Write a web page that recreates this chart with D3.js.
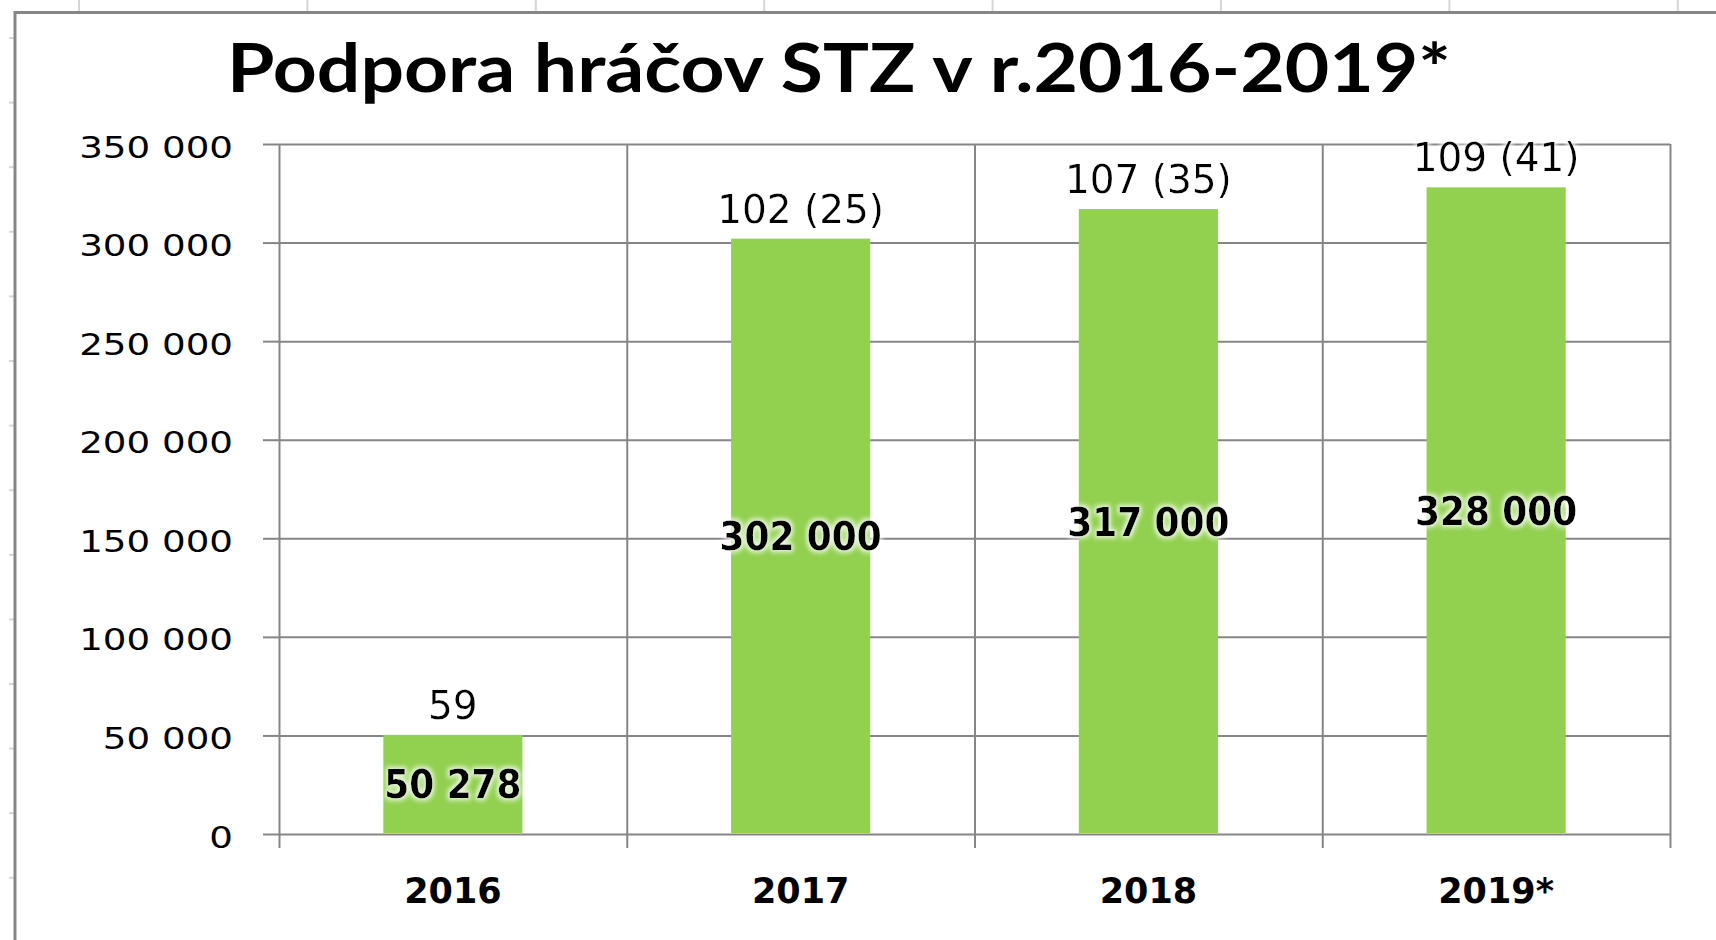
<!DOCTYPE html>
<html>
<head>
<meta charset="utf-8">
<title>Podpora hráčov STZ v r.2016-2019*</title>
<script src="https://cdn.jsdelivr.net/npm/d3@7"></script>
<style>
    html, body { margin: 0; padding: 0; background: #fff; }
    svg { display: block; }
</style>
</head>
<body>
<svg id="chart" width="1716" height="940"></svg>
<script>
var title = 'Podpora hráčov STZ v r.2016-2019*';
var categories = ['2016', '2017', '2018', '2019*'];
var amounts = [50278, 302000, 317000, 328000];
var playerLabels = ['59', '102 (25)', '107 (35)', '109 (41)'];
var yTicks = [0, 50000, 100000, 150000, 200000, 250000, 300000, 350000];

(function(d3) {
    'use strict';

    var width = 1716;
    var height = 940;
    var plot = { left: 279, right: 1670, top: 144, bottom: 834 };
    var plotWidth = plot.right - plot.left;
    var plotHeight = plot.bottom - plot.top;
    var gridColor = '#868686';
    var sheetColor = '#d6d6d6';
    var barColor = '#92D050';
    var font = "'DejaVu Sans', Verdana, sans-serif";

    var locale = d3.formatLocale({ decimal: ',', thousands: ' ', grouping: [3], currency: ['', ''] });
    var fmt = locale.format(',d');

    var svg = d3.select('#chart');

    //HINT: Excel style soft white glow behind the data labels
    var glow = svg.append('defs').append('filter')
        .attr('id', 'glow')
        .attr('x', '-20%').attr('y', '-50%')
        .attr('width', '140%').attr('height', '200%');
    glow.append('feMorphology')
        .attr('in', 'SourceAlpha').attr('operator', 'dilate').attr('radius', 2).attr('result', 'thick');
    glow.append('feGaussianBlur')
        .attr('in', 'thick').attr('stdDeviation', 2.5).attr('result', 'blur');
    glow.append('feFlood')
        .attr('flood-color', '#fff').attr('flood-opacity', 0.8);
    glow.append('feComposite')
        .attr('in2', 'blur').attr('operator', 'in').attr('result', 'halo');
    var merge = glow.append('feMerge');
    merge.append('feMergeNode').attr('in', 'halo');
    merge.append('feMergeNode').attr('in', 'SourceGraphic');

    svg.append('rect')
        .attr('width', width)
        .attr('height', height)
        .attr('fill', '#fff');

    // spreadsheet cells peeking out above and left of the chart object
    var sheet = svg.append('g')
        .attr('stroke', sheetColor)
        .attr('stroke-width', 2);

    sheet.selectAll('line.col')
        .data(d3.range(79, width, 228.4))
        .enter().append('line')
        .attr('class', 'col')
        .attr('x1', function(d) { return d; })
        .attr('x2', function(d) { return d; })
        .attr('y1', 0)
        .attr('y2', 12);

    sheet.selectAll('line.row')
        .data(d3.range(38, height, 64.6))
        .enter().append('line')
        .attr('class', 'row')
        .attr('x1', 9)
        .attr('x2', 15)
        .attr('y1', function(d) { return d; })
        .attr('y2', function(d) { return d; });

    // chart object border
    svg.append('path')
        .attr('d', 'M15,' + height + 'V12.5H' + width)
        .attr('fill', 'none')
        .attr('stroke', gridColor)
        .attr('stroke-width', 3);

    svg.append('text')
        .attr('x', 227)
        .attr('y', 92)
        .attr('textLength', 1224)
        .attr('lengthAdjust', 'spacingAndGlyphs')
        .style('font-family', "Lato, 'Open Sans', sans-serif")
        .style('font-weight', 'bold')
        .style('font-size', '67px')
        .attr('fill', '#000')
        .text(title);

    var x = d3.scaleBand()
        .domain(categories)
        .range([plot.left, plot.right])
        .padding(0);

    var xEdge = d3.scaleLinear()
        .domain([0, categories.length])
        .range([plot.left, plot.right]);

    var y = d3.scaleLinear()
        .domain([0, 350000])
        .range([plot.bottom, plot.top]);

    var barWidth = x.bandwidth() * 0.4;

    // horizontal gridlines
    svg.append('g')
        .attr('class', 'grid-y')
        .attr('transform', 'translate(' + plot.left + ',0)')
        .call(d3.axisLeft(y).tickValues(yTicks).tickSize(-plotWidth).tickFormat(''))
        .call(function(g) { g.select('.domain').remove(); });

    // vertical gridlines at the category edges
    svg.append('g')
        .attr('class', 'grid-x')
        .attr('transform', 'translate(0,' + plot.bottom + ')')
        .call(d3.axisBottom(xEdge).tickValues(d3.range(0, categories.length + 1)).tickSize(-plotHeight).tickFormat(''))
        .call(function(g) { g.select('.domain').remove(); });

    svg.selectAll('.grid-y line, .grid-x line')
        .attr('stroke', gridColor)
        .attr('stroke-width', 2);

    // bars
    svg.append('g')
        .selectAll('rect')
        .data(amounts)
        .enter().append('rect')
        .attr('x', function(d, i) { return x(categories[i]) + (x.bandwidth() - barWidth) / 2; })
        .attr('y', function(d) { return y(d); })
        .attr('width', barWidth)
        .attr('height', function(d) { return y(0) - y(d) - 1; })
        .attr('fill', barColor);

    // outer tick marks
    var yAxis = svg.append('g')
        .attr('transform', 'translate(' + plot.left + ',0)')
        .call(d3.axisLeft(y).tickValues(yTicks).tickSize(16).tickPadding(30).tickFormat(fmt))
        .call(function(g) { g.select('.domain').remove(); });

    yAxis.selectAll('line')
        .attr('stroke', gridColor)
        .attr('stroke-width', 2);

    yAxis.selectAll('text')
        .attr('x', null)
        .attr('dy', null)
        .attr('transform', 'translate(-46,13) scale(1.22,1)')
        .attr('fill', '#000')
        .style('font-family', font)
        .style('font-size', '30.5px');

    var xTicks = svg.append('g')
        .attr('transform', 'translate(0,' + plot.bottom + ')')
        .call(d3.axisBottom(xEdge).tickValues(d3.range(0, categories.length + 1)).tickSize(14).tickFormat(''))
        .call(function(g) { g.select('.domain').remove(); });

    xTicks.selectAll('line')
        .attr('stroke', gridColor)
        .attr('stroke-width', 2);

    var xAxis = svg.append('g')
        .attr('transform', 'translate(0,' + plot.bottom + ')')
        .call(d3.axisBottom(x).tickSize(0).tickPadding(0))
        .call(function(g) { g.select('.domain').remove(); });

    xAxis.selectAll('text')
        .attr('y', 69)
        .attr('dy', null)
        .attr('fill', '#000')
        .style('font-family', font)
        .style('font-weight', 'bold')
        .style('font-size', '35px');

    // amount labels centred inside the bars
    svg.append('g')
        .selectAll('text')
        .data(amounts)
        .enter().append('text')
        .attr('transform', function(d, i) {
            var cx = x(categories[i]) + x.bandwidth() / 2;
            var cy = (y(d) + y(0)) / 2;
            return 'translate(' + cx + ',' + cy + ') scale(0.92,1)';
        })
        .attr('dy', '0.36em')
        .attr('text-anchor', 'middle')
        .attr('filter', 'url(#glow)')
        .attr('fill', '#000')
        .style('font-family', font)
        .style('font-weight', 'bold')
        .style('font-size', '39px')
        .text(function(d) { return fmt(d); });

    // player counts above the bars
    svg.append('g')
        .selectAll('text')
        .data(playerLabels)
        .enter().append('text')
        .attr('x', function(d, i) { return x(categories[i]) + x.bandwidth() / 2; })
        .attr('y', function(d, i) { return y(amounts[i]) - 16; })
        .attr('text-anchor', 'middle')
        .attr('filter', 'url(#glow)')
        .attr('fill', '#000')
        .style('font-family', font)
        .style('font-size', '39px')
        .text(function(d) { return d; });

}(window.d3));
</script>
</body>
</html>
